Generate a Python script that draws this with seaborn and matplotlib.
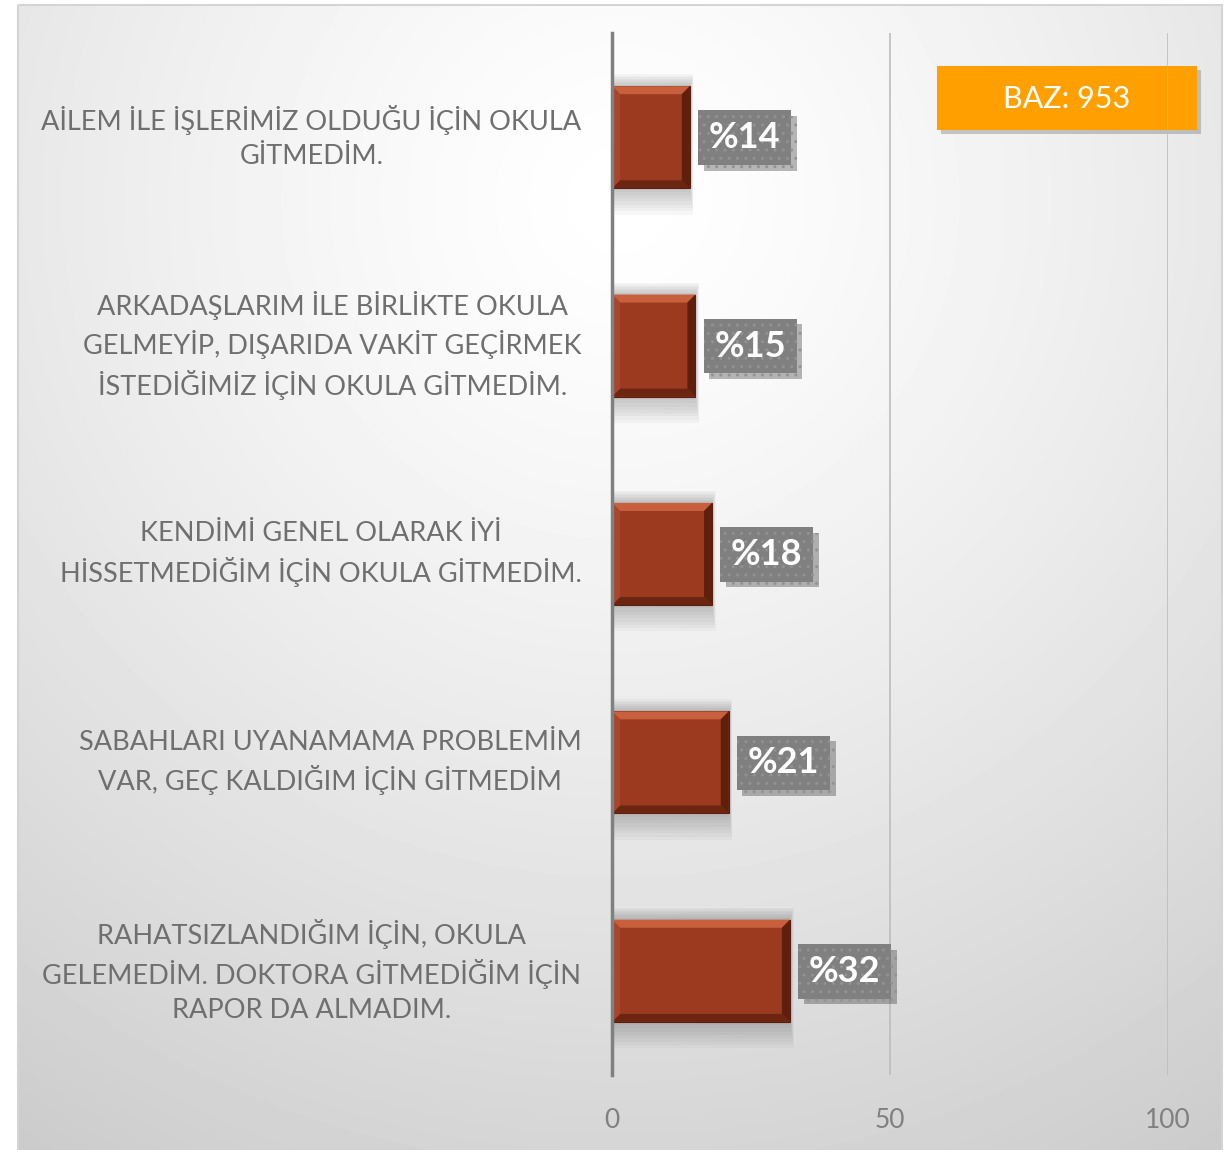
import numpy as np
import pandas as pd
import matplotlib
matplotlib.use('Agg')
import matplotlib.pyplot as plt
from matplotlib.patches import Rectangle, Polygon
import matplotlib.patheffects as pe
import seaborn as sns

# 数据
categories = [
    'AİLEM İLE İŞLERİMİZ OLDUĞU İÇİN OKULA\nGİTMEDİM.',
    'ARKADAŞLARIM İLE BİRLİKTE OKULA\nGELMEYİP, DIŞARIDA VAKİT GEÇİRMEK\nİSTEDİĞİMİZ İÇİN OKULA GİTMEDİM.',
    'KENDİMİ GENEL OLARAK İYİ\nHİSSETMEDİĞİM İÇİN OKULA GİTMEDİM.',
    'SABAHLARI UYANAMAMA PROBLEMİM\nVAR, GEÇ KALDIĞIM İÇİN GİTMEDİM',
    'RAHATSIZLANDIĞIM İÇİN, OKULA\nGELEMEDİM. DOKTORA GİTMEDİĞİM İÇİN\nRAPOR DA ALMADIM.',
]
values = [14, 15, 18, 21, 32]
value_labels = ['%14', '%15', '%18', '%21', '%32']
x_ticks = [0, 50, 100]
base_text = 'BAZ: 953'

BAR = '#9B3A1F'
GREY_TXT = '#6f6f6f'
FONT = ['Lato', 'DejaVu Sans']

W, H = 1229, 1150
sns.set_style('white')
plt.rcParams['font.family'] = FONT

fig = plt.figure(figsize=(W / 100, H / 100), dpi=100)

# 背景: 径向渐变
bg = fig.add_axes([0, 0, 1, 1], zorder=-10)
bg.set_xlim(0, W)
bg.set_ylim(H, 0)
bg.axis('off')
yy, xx = np.mgrid[5:H, 18:1222]
d = np.hypot(xx - 620, yy - 200) / 1124
v = np.clip(255 - 52 * d ** 1.3, 190, 255) / 255
bg.imshow(v, cmap='gray', vmin=0, vmax=1, extent=[18, 1222, H, 5],
          interpolation='bilinear', aspect='auto')
bg.add_patch(Rectangle((18, 5), 1204, H, fill=False, ec='#d4d4d4', lw=1.5))

# 主坐标轴
x0, x1, ytop, ybot = 612, 1168, 33, 1075
ax = fig.add_axes([x0 / W, (H - ybot) / H, (x1 - x0) / W, (ybot - ytop) / H])
ax.patch.set_alpha(0)

df = pd.DataFrame({'cat': categories, 'val': values})
sns.barplot(data=df, x='val', y='cat', orient='h', color=BAR,
            saturation=1, width=0.49, ax=ax, zorder=3)

ax.set_xlim(0, 100)
ax.set_ylim(4.5, -0.5)
ax.set_xticks(x_ticks)
ax.set_xlabel('')
ax.set_ylabel('')
for s in ['top', 'right', 'bottom']:
    ax.spines[s].set_visible(False)
ax.spines['left'].set_color('#808080')
ax.spines['left'].set_linewidth(2.5)
ax.spines['left'].set_zorder(5)
ax.grid(False)
for xv in x_ticks[1:]:
    ax.axvline(xv, color='#bdbdbd', lw=1.2, zorder=1)

ax.tick_params(axis='y', which='major', length=0, pad=22, labelsize=19.5,
               labelcolor=GREY_TXT)
ax.set_yticks(np.arange(-0.5, 5, 1), minor=True)
ax.tick_params(axis='y', which='minor', length=6, width=2.5, color='#808080',
               direction='out')
ax.tick_params(axis='x', length=0, pad=24, labelsize=19, labelcolor='#808080')
for t in ax.get_yticklabels():
    t.set_multialignment('center')
    t.set_linespacing(1.42)
    t.set_va('center')

# 柱子: 阴影 + 斜面效果
px = 100 / (x1 - x0)
py = 5 / (ybot - ytop)
for p in ax.patches[:len(values)]:
    bx, by, bw, bh = p.get_x(), p.get_y(), p.get_width(), p.get_height()
    for k in range(8):
        g = (k + 1) * 3
        ax.add_patch(Rectangle((bx, by - 0.5 * g * py), bw + 0.15 * g * px,
                               bh + 1.6 * g * py,
                               fc='#444444', ec='none', alpha=0.04, zorder=2))
    p.set_edgecolor('#5a1c0c')
    p.set_linewidth(0.8)
    ex, ey = 8 * px, 8 * py
    top = [(bx, by), (bx + bw, by), (bx + bw - ex, by + ey), (bx + ex, by + ey)]
    bot = [(bx, by + bh), (bx + bw, by + bh), (bx + bw - ex, by + bh - ey), (bx + ex, by + bh - ey)]
    lft = [(bx, by), (bx + ex, by + ey), (bx + ex, by + bh - ey), (bx, by + bh)]
    rgt = [(bx + bw, by), (bx + bw - ex, by + ey), (bx + bw - ex, by + bh - ey), (bx + bw, by + bh)]
    for poly, c in [(top, '#c8603e'), (bot, '#6b2511'), (lft, '#a8452a'), (rgt, '#5e1f0d')]:
        ax.add_patch(Polygon(poly, closed=True, fc=c, ec='none', zorder=4))

# 数值标签
for i, (v, lab) in enumerate(zip(values, value_labels)):
    xt = v + 19 * px
    t = ax.text(xt, i + 0.5 * py, lab, color='white', fontsize=26, fontweight='bold',
                va='center', ha='left', zorder=6,
                bbox=dict(boxstyle='square,pad=0.3', fc='#808080', ec='#929292', lw=0,
                          hatch='..'))
    t.get_bbox_patch().set_path_effects([
        pe.SimplePatchShadow(offset=(4, -4), shadow_rgbFace='#333333', alpha=0.35),
        pe.Normal()])

# BAZ 框
bg.add_patch(Rectangle((941, 70), 260, 64, fc='#555555', ec='none', alpha=0.3, zorder=2))
bg.add_patch(Rectangle((937, 66), 260, 64, fc='#FF9F00', ec='none', zorder=3))
bg.text(1067, 99, base_text, color='white', fontsize=22, ha='center', va='center', zorder=4)

plt.savefig('out.png', dpi=100)
plt.close()
